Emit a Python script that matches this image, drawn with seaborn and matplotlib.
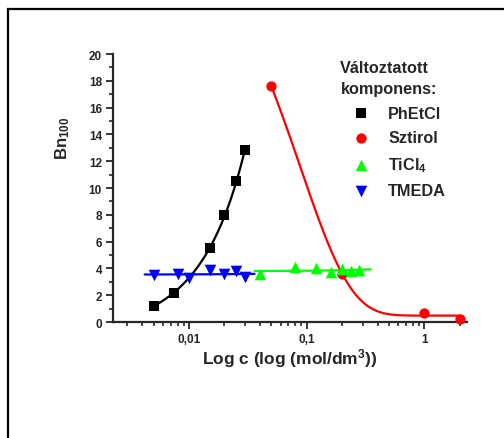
import numpy as np
import pandas as pd
import matplotlib
matplotlib.use("Agg")
import matplotlib.pyplot as plt
import matplotlib.ticker as mticker
from matplotlib.patches import Rectangle
import seaborn as sns

# ---- data ----
phetcl_x = [0.005, 0.0075, 0.015, 0.02, 0.025, 0.03]
phetcl_y = [1.2, 2.15, 5.5, 7.95, 10.5, 12.8]

sztirol_x = [0.05, 0.2, 1.0, 2.0]
sztirol_y = [17.6, 3.6, 0.7, 0.25]

ticl4_x = [0.04, 0.08, 0.12, 0.16, 0.2, 0.24, 0.28]
ticl4_y = [3.55, 4.08, 4.0, 3.7, 3.95, 3.8, 3.9]

tmeda_x = [0.005, 0.008, 0.01, 0.015, 0.02, 0.025, 0.03]
tmeda_y = [3.5, 3.6, 3.3, 3.85, 3.55, 3.8, 3.35]

series_labels = ["PhEtCl", "Sztirol", r"TiCl$_{4}$", "TMEDA"]
x_ticks = [0.01, 0.1, 1]
y_ticks = [0, 2, 4, 6, 8, 10, 12, 14, 16, 18, 20]

# ---- style ----
sns.set_style("ticks")
plt.rcParams["font.family"] = ["Liberation Sans", "DejaVu Sans"]
plt.rcParams["font.weight"] = "bold"
plt.rcParams["mathtext.fontset"] = "custom"
plt.rcParams["mathtext.rm"] = "Liberation Sans:bold"
plt.rcParams["mathtext.it"] = "Liberation Sans:bold"
plt.rcParams["mathtext.bf"] = "Liberation Sans:bold"
plt.rcParams["mathtext.default"] = "regular"


def exp_fit(x, y, sign, taus):
    x = np.asarray(x, float)
    y = np.asarray(y, float)
    best = None
    for t in taus:
        M = np.column_stack([np.ones_like(x), np.exp(sign * x / t)])
        coef, *_ = np.linalg.lstsq(M, y, rcond=None)
        err = np.sum((M @ coef - y) ** 2)
        if best is None or err < best[0]:
            best = (err, t, coef)
    _, t, coef = best
    return lambda xx: coef[0] + coef[1] * np.exp(sign * np.asarray(xx) / t)


fig = plt.figure(figsize=(5.04, 4.39), dpi=100)
ax = fig.add_axes([113 / 504, 1 - 323 / 439, (467 - 113) / 504, (323 - 55) / 439])

# outer frame
fig.patches.append(Rectangle((8 / 504, -0.1), 1.2, 1 - 10 / 439 + 0.1,
                             transform=fig.transFigure, fill=False,
                             edgecolor="black", linewidth=1.6))

# fitted curves
f_black = exp_fit(phetcl_x, phetcl_y, +1, np.linspace(0.003, 0.1, 400))
xb = np.geomspace(min(phetcl_x), max(phetcl_x), 200)
f_red = exp_fit(sztirol_x, sztirol_y, -1, np.linspace(0.02, 0.3, 400))
xr = np.geomspace(min(sztirol_x), max(sztirol_x), 300)
pg = np.polyfit(ticl4_x, ticl4_y, 1)
xg = np.geomspace(0.036, 0.35, 100)
pb = np.polyfit(tmeda_x, tmeda_y, 1)
xbl = np.geomspace(0.0042, 0.036, 100)

sns.lineplot(x=xbl, y=np.polyval(pb, xbl), ax=ax, color="#0000ff", lw=1.6, legend=False)
sns.lineplot(x=xg, y=np.polyval(pg, xg), ax=ax, color="#00ff00", lw=1.6, legend=False)
sns.lineplot(x=xb, y=f_black(xb), ax=ax, color="black", lw=1.6, legend=False)
sns.lineplot(x=xr, y=f_red(xr), ax=ax, color="#ff0000", lw=1.6, legend=False)

ms = 55
h1 = ax.scatter(phetcl_x, phetcl_y, marker="s", s=ms, color="black", zorder=5,
                clip_on=False, linewidths=0, label=series_labels[0])
h2 = ax.scatter(sztirol_x, sztirol_y, marker="o", s=ms, color="#ff0000", zorder=5,
                clip_on=False, linewidths=0, label=series_labels[1])
h3 = ax.scatter(ticl4_x, ticl4_y, marker="^", s=ms + 15, color="#00ff00", zorder=5,
                clip_on=False, linewidths=0, label=series_labels[2])
h4 = ax.scatter(tmeda_x, tmeda_y, marker="v", s=ms + 15, color="#0000ff", zorder=5,
                clip_on=False, linewidths=0, label=series_labels[3])

ax.set_xscale("log")
ax.set_xlim(0.00226, 2.3)
ax.set_ylim(0, 20)
ax.xaxis.set_major_locator(mticker.FixedLocator(x_ticks))
ax.xaxis.set_major_formatter(mticker.FuncFormatter(lambda v, p: f"{v:g}".replace(".", ",")))
ax.xaxis.set_minor_locator(mticker.LogLocator(base=10, subs=np.arange(2, 10)))
ax.xaxis.set_minor_formatter(mticker.NullFormatter())
ax.yaxis.set_major_locator(mticker.FixedLocator(y_ticks))
ax.yaxis.set_minor_locator(mticker.MultipleLocator(1))

for s in ["top", "right"]:
    ax.spines[s].set_visible(False)
for s in ["left", "bottom"]:
    ax.spines[s].set_linewidth(1.6)
ax.tick_params(which="major", direction="out", length=5, width=1.3, labelsize=8.5, pad=3)
ax.tick_params(which="minor", direction="out", length=2.8, width=1.2)
for lab in ax.get_xticklabels() + ax.get_yticklabels():
    lab.set_fontweight("bold")

ax.set_xlabel(r"Log c (log (mol/dm$^{3}$))", fontsize=12.5, fontweight="bold", labelpad=1)
ax.set_ylabel(r"Bn$_{100}$", fontsize=12, fontweight="bold")
ax.yaxis.set_label_coords(-0.115, 0.69)

leg = ax.legend(handles=[h1, h2, h3, h4], title="Változtatott\nkomponens:",
                loc="upper left", bbox_to_anchor=(329 / 504, 1 - 50 / 439),
                bbox_transform=fig.transFigure, frameon=False,
                prop={"size": 11.7, "weight": "bold"},
                title_fontproperties={"size": 11.7, "weight": "bold"},
                alignment="left", handlelength=2.5, handletextpad=0.45,
                labelspacing=0.6, borderpad=0.2, scatterpoints=1)
leg.get_title().set_multialignment("left")
leg.get_title().set_linespacing(1.45)

fig.savefig("out.png", dpi=100)
